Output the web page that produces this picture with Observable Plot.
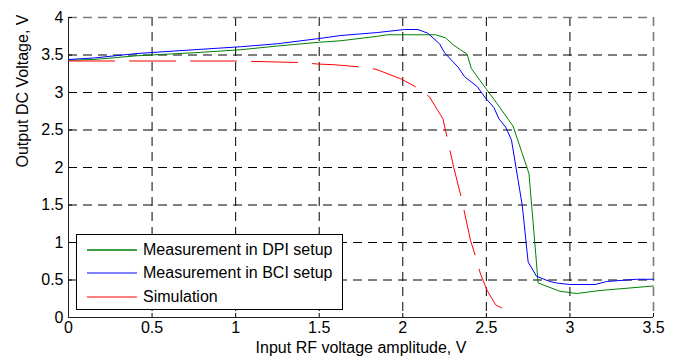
<!DOCTYPE html>
<html>
<head>
<meta charset="utf-8">
<script src="https://cdn.jsdelivr.net/npm/d3@7"></script>
<script src="https://cdn.jsdelivr.net/npm/@observablehq/plot@0.6"></script>
<style>
  body { margin: 0; background: #fff; }
  #chart { position: relative; width: 679px; height: 363px; font-family: "Liberation Sans", Arial, sans-serif; }
  .legend {
    position: absolute; left: 76px; top: 234px; width: 267px; height: 76px;
    box-sizing: border-box; border: 1px solid #000; background: #fff;
    padding: 3px 0 0 10px; font-size: 16px; color: #000;
  }
  .legend .row { display: flex; align-items: center; height: 23.5px; }
  .legend svg { width: 50px; height: 4px; margin-right: 6px; overflow: visible; }
</style>
</head>
<body>
<div id="chart"></div>
<script>
// Input RF voltage amplitude (V) vs. output DC voltage (V)
const xTicks = [0, 0.5, 1, 1.5, 2, 2.5, 3, 3.5];
const yTicks = [0, 0.5, 1, 1.5, 2, 2.5, 3, 3.5, 4];
const xLabel = "Input RF voltage amplitude, V";
const yLabel = "Output DC Voltage, V";

const seriesNames = ["Measurement in DPI setup", "Measurement in BCI setup", "Simulation"];
const seriesColors = ["#008000", "#0000ff", "#ff0000"];

// Measurement in DPI setup
const dpiX = [0, 0.15, 0.41, 0.75, 1.03, 1.25, 1.5, 1.63, 1.85, 1.91, 2.0, 2.195, 2.255, 2.305, 2.385, 2.41, 2.485, 2.565, 2.66, 2.755, 2.81, 2.94, 3.04, 3.18, 3.5];
const dpiY = [3.43, 3.44, 3.49, 3.53, 3.57, 3.62, 3.67, 3.69, 3.75, 3.77, 3.77, 3.77, 3.73, 3.63, 3.51, 3.32, 3.09, 2.85, 2.55, 1.92, 0.46, 0.35, 0.32, 0.36, 0.42];

// Measurement in BCI setup
const bciX = [0, 0.15, 0.41, 0.75, 1.03, 1.25, 1.5, 1.63, 1.85, 2.01, 2.09, 2.15, 2.22, 2.25, 2.33, 2.37, 2.445, 2.49, 2.545, 2.575, 2.615, 2.65, 2.69, 2.715, 2.75, 2.8, 2.88, 2.92, 3.0, 3.15, 3.22, 3.4, 3.5];
const bciY = [3.44, 3.46, 3.52, 3.57, 3.61, 3.65, 3.72, 3.76, 3.8, 3.84, 3.84, 3.79, 3.65, 3.53, 3.34, 3.21, 3.08, 2.94, 2.8, 2.65, 2.54, 2.37, 1.83, 1.49, 0.74, 0.55, 0.48, 0.46, 0.44, 0.44, 0.48, 0.51, 0.51];

// Simulation
const simX = [0, 0.5, 1.0, 1.19, 1.37, 1.49, 1.59, 1.75, 1.84, 1.99, 2.09, 2.16, 2.24, 2.265, 2.305, 2.35, 2.405, 2.44, 2.465, 2.505, 2.555, 2.605];
const simY = [3.42, 3.42, 3.42, 3.41, 3.40, 3.38, 3.37, 3.34, 3.31, 3.18, 3.06, 2.94, 2.65, 2.40, 2.00, 1.60, 1.03, 0.78, 0.58, 0.36, 0.17, 0.11];

const toRows = (xs, ys) => xs.map((x, i) => ({x, y: ys[i]}));
const dpi = toRows(dpiX, dpiY);
const bci = toRows(bciX, bciY);
const sim = toRows(simX, simY);

const innerX = xTicks.filter(v => v > 0 && v < 3.5);
const innerY = yTicks.filter(v => v > 0 && v < 4);
const dash = "9,6";

const plot = Plot.plot({
  width: 679,
  height: 363,
  marginLeft: 68,
  marginRight: 26,
  marginTop: 17,
  marginBottom: 46,
  style: { fontFamily: "Liberation Sans, Arial, sans-serif", fontSize: "16px", color: "#000", background: "#fff" },
  x: { domain: [0, 3.5] },
  y: { domain: [0, 4] },
  marks: [
    // dashed grid
    Plot.ruleX(innerX, { stroke: "#000", strokeDasharray: dash }),
    Plot.ruleY(innerY, { stroke: "#000", strokeDasharray: dash }),
    Plot.ruleX([3.5], { stroke: "#7a7a7a", strokeWidth: 1.6, strokeDasharray: dash }),
    Plot.ruleY([4], { stroke: "#7a7a7a", strokeWidth: 1.6, strokeDasharray: dash }),
    // inward tick marks (labels drawn below)
    Plot.axisX(xTicks, { tickSize: -4, tickFormat: () => "", label: null }),
    Plot.axisY(yTicks, { tickSize: -4, tickFormat: () => "", label: null }),
    Plot.ruleX([0], { stroke: "#222" }),
    Plot.ruleY([0], { stroke: "#222" }),
    // tick labels
    Plot.text(xTicks, { x: d => d, text: d => String(d), frameAnchor: "bottom", dy: 15, fill: "#000" }),
    Plot.text(yTicks, { y: d => d, text: d => String(d), frameAnchor: "left", textAnchor: "end", dx: -5, fill: "#000" }),
    // axis titles
    Plot.text([xLabel], { text: d => d, frameAnchor: "bottom", dy: 35, fill: "#000" }),
    Plot.text([yLabel], { text: d => d, frameAnchor: "left", rotate: -90, dx: -46, fill: "#000" }),
    // curves
    Plot.line(dpi, { x: "x", y: "y", stroke: seriesColors[0], strokeWidth: 1 }),
    Plot.line(bci, { x: "x", y: "y", stroke: seriesColors[1], strokeWidth: 1 }),
    Plot.line(sim, { x: "x", y: "y", stroke: seriesColors[2], strokeWidth: 1, strokeDasharray: "46,15" })
  ]
});

const chart = document.getElementById("chart");
chart.appendChild(plot);

// legend box
const legend = document.createElement("div");
legend.className = "legend";
seriesNames.forEach((name, i) => {
  const row = document.createElement("div");
  row.className = "row";
  row.innerHTML = `<svg viewBox="0 0 50 4"><line x1="0" y1="2" x2="50" y2="2" stroke="${seriesColors[i]}" stroke-width="${i === 0 ? 1.5 : 1}"/></svg><span>${name}</span>`;
  legend.appendChild(row);
});
chart.appendChild(legend);
</script>
</body>
</html>
